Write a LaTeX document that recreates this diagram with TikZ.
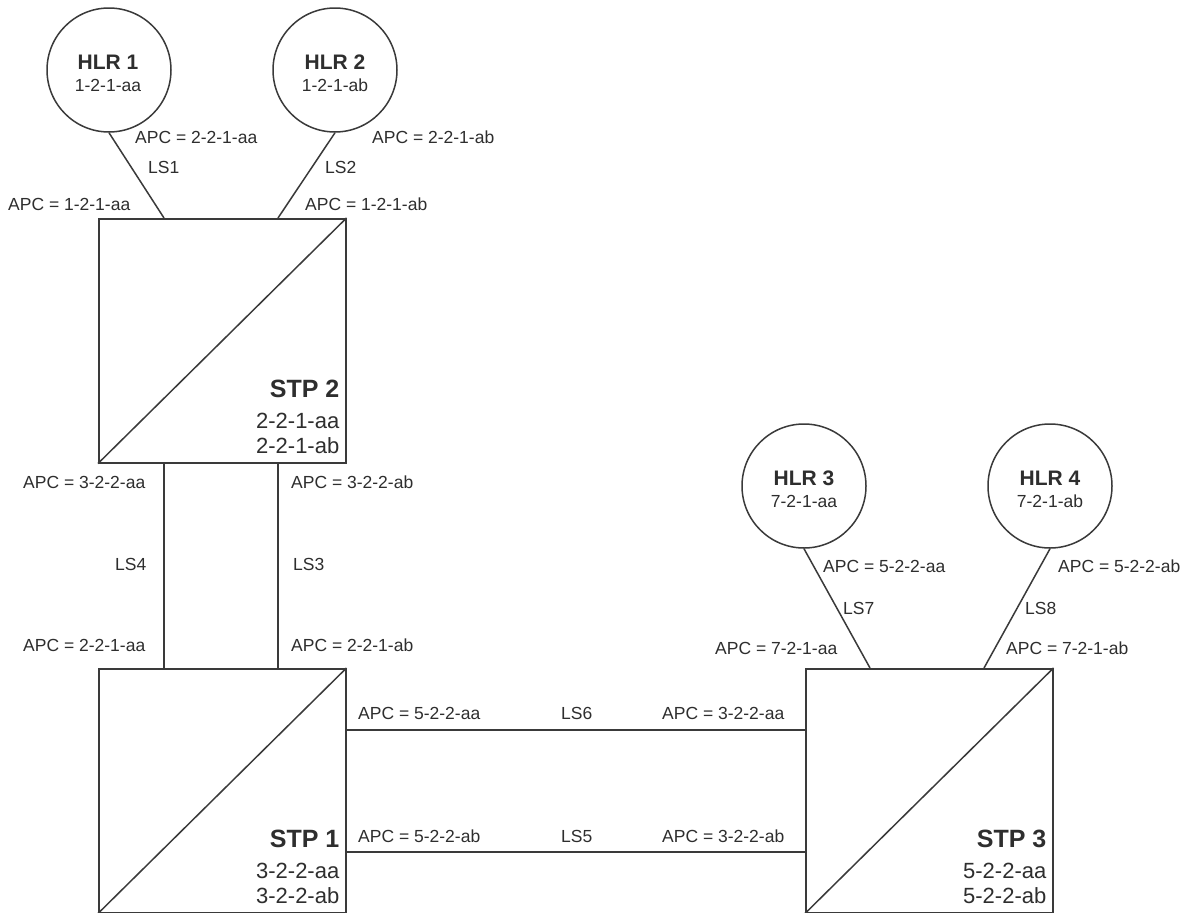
\documentclass[tikz,border=0pt]{standalone}
\usepackage{fontspec}
\setmainfont{Liberation Sans}
\usetikzlibrary{calc}
\definecolor{ink}{HTML}{3A3A3A}
\definecolor{txt}{HTML}{2E2E2E}
\begin{document}
\begin{tikzpicture}[x=1pt,y=-1pt,
  line/.style={draw=ink,line width=1.5pt},
  hlr/.style={circle,draw=ink,line width=1.5pt,minimum size=124pt,inner sep=0pt},
  stpbox/.style={draw=ink,line width=1.5pt,minimum width=247pt,minimum height=244pt,anchor=north west,inner sep=0pt},
  lbl/.style={anchor=west,inner sep=0pt,text=txt,font=\fontsize{17.5}{20}\selectfont},
  hname/.style={inner sep=0pt,text=txt,font=\bfseries\fontsize{21}{24}\selectfont},
  hcode/.style={inner sep=0pt,text=txt,font=\fontsize{17.5}{20}\selectfont},
  sname/.style={anchor=east,inner sep=0pt,text=txt,font=\bfseries\fontsize{25}{28}\selectfont},
  scode/.style={anchor=east,inner sep=0pt,text=txt,font=\fontsize{22}{25}\selectfont}]
\useasboundingbox[fill=white] (0,0) rectangle (1192,913);

% HLR circles
\node[hlr] (hlr1) at (109,70) {};
\node[hlr] (hlr2) at (335,70) {};
\node[hlr] (hlr3) at (804,486) {};
\node[hlr] (hlr4) at (1050,486) {};
\node[hname] (h1n) at (108,62) {HLR 1};
\node[hcode] (h1c) at (108,85) {1-2-1-aa};
\node[hname] (h2n) at (335,62) {HLR 2};
\node[hcode] (h2c) at (335,85) {1-2-1-ab};
\node[hname] (h3n) at (804,478) {HLR 3};
\node[hcode] (h3c) at (804,501) {7-2-1-aa};
\node[hname] (h4n) at (1050,478) {HLR 4};
\node[hcode] (h4c) at (1050,501) {7-2-1-ab};

% STP boxes
\node[stpbox] (stp2) at (98,218) {};
\node[stpbox] (stp1) at (98,668) {};
\node[stpbox] (stp3) at (805,668) {};
\foreach \s in {stp1,stp2,stp3}{
  \draw[line] (\s.south west) -- (\s.north east);
}
\node[sname] (s2n) at ($(stp2.south east)+(-7,-75)$) {STP 2};
\node[scode] (s2a) at ($(stp2.south east)+(-7,-43)$) {2-2-1-aa};
\node[scode] (s2b) at ($(stp2.south east)+(-7,-18)$) {2-2-1-ab};
\node[sname] (s1n) at ($(stp1.south east)+(-7,-75)$) {STP 1};
\node[scode] (s1a) at ($(stp1.south east)+(-7,-43)$) {3-2-2-aa};
\node[scode] (s1b) at ($(stp1.south east)+(-7,-18)$) {3-2-2-ab};
\node[sname] (s3n) at ($(stp3.south east)+(-7,-75)$) {STP 3};
\node[scode] (s3a) at ($(stp3.south east)+(-7,-43)$) {5-2-2-aa};
\node[scode] (s3b) at ($(stp3.south east)+(-7,-18)$) {5-2-2-ab};

% connection points
\coordinate (c1) at (164,218);
\coordinate (c2) at (278,218);
\coordinate (c4t) at (164,462);
\coordinate (c3t) at (278,462);
\coordinate (c4b) at (164,668);
\coordinate (c3b) at (278,668);
\coordinate (c7) at (870,668);
\coordinate (c8) at (984,668);
\coordinate (c6l) at (345,730);
\coordinate (c6r) at (805,730);
\coordinate (c5l) at (345,852);
\coordinate (c5r) at (805,852);

% links
\draw[line] (hlr1.south) -- (c1);
\draw[line] (hlr2.south) -- (c2);
\draw[line] (c4t) -- (c4b);
\draw[line] (c3t) -- (c3b);
\draw[line] (c6l) -- (c6r);
\draw[line] (c5l) -- (c5r);
\draw[line] (hlr3.south) -- (c7);
\draw[line] (hlr4.south) -- (c8);

% labels
\node[lbl] (l1a) at (135,137) {APC = 2-2-1-aa};
\node[lbl] (l1) at (148,167) {LS1};
\node[lbl] (l1b) at (8,204) {APC = 1-2-1-aa};
\node[lbl] (l2a) at (372,137) {APC = 2-2-1-ab};
\node[lbl] (l2) at (325,167) {LS2};
\node[lbl] (l2b) at (305,204) {APC = 1-2-1-ab};

\node[lbl] (l4a) at (23,482) {APC = 3-2-2-aa};
\node[lbl] (l4) at (115,564) {LS4};
\node[lbl] (l4b) at (23,645) {APC = 2-2-1-aa};
\node[lbl] (l3a) at (291,482) {APC = 3-2-2-ab};
\node[lbl] (l3) at (293,564) {LS3};
\node[lbl] (l3b) at (291,645) {APC = 2-2-1-ab};

\node[lbl] (l6a) at (358,713) {APC = 5-2-2-aa};
\node[lbl] (l6) at (561,713) {LS6};
\node[lbl] (l6b) at (662,713) {APC = 3-2-2-aa};
\node[lbl] (l5a) at (358,836) {APC = 5-2-2-ab};
\node[lbl] (l5) at (561,836) {LS5};
\node[lbl] (l5b) at (662,836) {APC = 3-2-2-ab};

\node[lbl] (l7a) at (823,566) {APC = 5-2-2-aa};
\node[lbl] (l7) at (843,608) {LS7};
\node[lbl] (l7b) at (715,648) {APC = 7-2-1-aa};
\node[lbl] (l8a) at (1058,566) {APC = 5-2-2-ab};
\node[lbl] (l8) at (1025,608) {LS8};
\node[lbl] (l8b) at (1006,648) {APC = 7-2-1-ab};
\end{tikzpicture}
\end{document}
